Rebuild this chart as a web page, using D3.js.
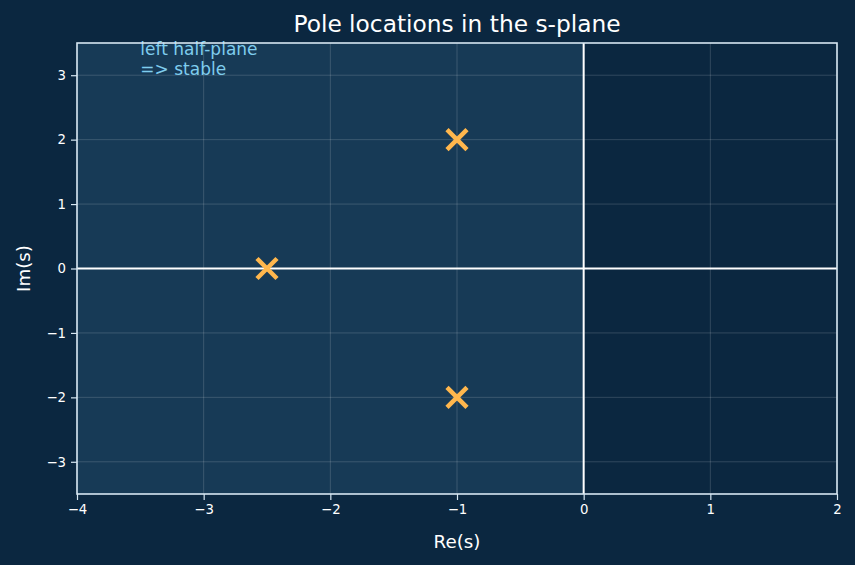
<!DOCTYPE html>
<html lang="en">
<head>
  <meta charset="UTF-8">
  <title>Pole locations in the s-plane</title>
  <script src="https://d3js.org/d3.v7.min.js"></script>
  <style>
    body { margin: 0; background: #0b2740; }
    text { font-family: "DejaVu Sans", sans-serif; }
  </style>
</head>
<body>
  <script>
    // poles (real, imag)
    const poleRe = [-1, -1, -2.5];
    const poleIm = [2, -2, 0];
    const xTicks = [-4, -3, -2, -1, 0, 1, 2];
    const yTicks = [-3, -2, -1, 0, 1, 2, 3];

    const w = 855, h = 565;
    const m = { left: 77, right: 18, top: 43, bottom: 71 };

    const x = d3.scaleLinear().domain([-4, 2]).range([m.left, w - m.right]);
    const y = d3.scaleLinear().domain([-3.5, 3.5]).range([h - m.bottom, m.top]);

    const svg = d3.select('body').append('svg')
      .attr('width', w).attr('height', h)
      .style('display', 'block');

    svg.append('rect').attr('width', w).attr('height', h).attr('fill', '#0b2740');

    // stable region shading
    svg.append('rect')
      .attr('x', x(-4)).attr('y', y(3.5))
      .attr('width', x(0) - x(-4)).attr('height', y(-3.5) - y(3.5))
      .attr('fill', '#173a56');

    // grid
    const grid = svg.append('g').attr('stroke', '#ffffff').attr('stroke-opacity', 0.2).attr('stroke-width', 0.8);
    grid.selectAll('.gx').data(xTicks).enter().append('line')
      .attr('x1', d => x(d)).attr('x2', d => x(d))
      .attr('y1', y(-3.5)).attr('y2', y(3.5));
    grid.selectAll('.gy').data(yTicks).enter().append('line')
      .attr('x1', x(-4)).attr('x2', x(2))
      .attr('y1', d => y(d)).attr('y2', d => y(d));

    // zero lines
    svg.append('line').attr('x1', x(0)).attr('x2', x(0)).attr('y1', y(-3.5)).attr('y2', y(3.5))
      .attr('stroke', '#ffffff').attr('stroke-width', 2);
    svg.append('line').attr('x1', x(-4)).attr('x2', x(2)).attr('y1', y(0)).attr('y2', y(0))
      .attr('stroke', '#ffffff').attr('stroke-width', 2);

    // annotation
    const note = svg.append('text').attr('fill', '#7fcdee').attr('font-size', 17);
    note.append('tspan').attr('x', x(-3.5)).attr('y', y(3) - 20).text('left half-plane');
    note.append('tspan').attr('x', x(-3.5)).attr('y', y(3)).text('=> stable');

    // poles as crosses
    const poles = poleRe.map((r, i) => [r, poleIm[i]]);
    const s = 10;
    svg.selectAll('.pole').data(poles).enter().append('path')
      .attr('d', d => {
        const cx = x(d[0]), cy = y(d[1]);
        return `M${cx - s},${cy - s}L${cx + s},${cy + s}M${cx - s},${cy + s}L${cx + s},${cy - s}`;
      })
      .attr('stroke', '#ffb74d').attr('stroke-width', 4.5).attr('fill', 'none');

    // axes
    const fmt = d => d < 0 ? '\u2212' + Math.abs(d) : d;
    const xAxis = d3.axisBottom(x).tickValues(xTicks).tickSize(6).tickPadding(5).tickFormat(fmt);
    const yAxis = d3.axisLeft(y).tickValues(yTicks).tickSize(6).tickPadding(5).tickFormat(fmt);

    const gx = svg.append('g').attr('transform', `translate(0,${h - m.bottom})`).call(xAxis);
    const gy = svg.append('g').attr('transform', `translate(${m.left},0)`).call(yAxis);
    [gx, gy].forEach(g => {
      g.select('.domain').remove();
      g.selectAll('line').attr('stroke', '#d6e6f2').attr('stroke-width', 1.2);
      g.selectAll('text').attr('fill', '#ffffff').attr('font-size', 13.3)
        .style('font-family', '"DejaVu Sans", sans-serif');
    });

    // frame
    svg.append('rect')
      .attr('x', m.left).attr('y', m.top)
      .attr('width', w - m.left - m.right).attr('height', h - m.top - m.bottom)
      .attr('fill', 'none').attr('stroke', '#d6e6f2').attr('stroke-width', 1.6);

    // labels
    svg.append('text').attr('x', (m.left + w - m.right) / 2).attr('y', 32)
      .attr('text-anchor', 'middle').attr('fill', '#ffffff').attr('font-size', 23.3)
      .text('Pole locations in the s-plane');
    svg.append('text').attr('x', (m.left + w - m.right) / 2).attr('y', 548)
      .attr('text-anchor', 'middle').attr('fill', '#ffffff').attr('font-size', 18.3)
      .text('Re(s)');
    svg.append('text')
      .attr('transform', `translate(30,${(m.top + h - m.bottom) / 2}) rotate(-90)`)
      .attr('text-anchor', 'middle').attr('fill', '#ffffff').attr('font-size', 18.3)
      .text('Im(s)');
  </script>
</body>
</html>
